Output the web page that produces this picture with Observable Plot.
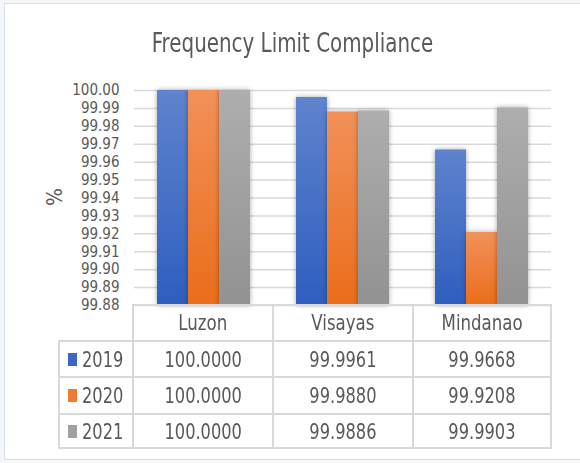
<!DOCTYPE html>
<html><head><meta charset="utf-8">
<script src="https://cdn.jsdelivr.net/npm/d3@7"></script>
<script src="https://cdn.jsdelivr.net/npm/@observablehq/plot@0.6"></script>
<style>
html,body{margin:0;padding:0;background:#f4f7fa;}
body{position:relative;width:580px;height:463px;overflow:hidden;font-family:"Liberation Sans Narrow","DejaVu Sans Condensed","Arial Narrow",sans-serif;color:#595959;}
#frame{position:absolute;left:4px;top:3px;width:620px;height:457px;background:#fff;border:1.5px solid #dadde1;border-right:none;box-sizing:border-box;}
#title{position:absolute;left:0;top:30px;width:585px;text-align:center;font-size:26px;line-height:26px;color:#595959;transform:scaleX(0.85);transform-origin:292.5px 50%;}
#ylabel{position:absolute;left:35px;top:185px;width:40px;height:24px;line-height:24px;text-align:center;font-size:21px;transform:rotate(-90deg);transform-origin:50% 50%;}
#chart{position:absolute;left:0;top:0;}
#table{position:absolute;left:58px;top:304px;display:grid;grid-template-columns:74px 140px 140px 140px;grid-template-rows:36px 36px 37px 36px;}
#table div{box-sizing:border-box;border-top:2px solid #d9d9d9;border-left:2px solid #d9d9d9;display:flex;align-items:center;justify-content:center;font-size:22px;color:#595959;white-space:nowrap;}
#table div.last{border-right:2px solid #d9d9d9;}
#table div.bottom{border-bottom:2px solid #d9d9d9;}
#table div.empty{border:none;}
#table div.hdr{font-size:21px;}
#table div.leg{justify-content:flex-start;padding-left:8px;}
#table .t{display:inline-block;transform:scaleX(0.82);transform-origin:50% 50%;}
#table .hdr .t{transform:scaleX(0.88);}
#table .leg .t{transform-origin:0 50%;}
#table .sw{display:inline-block;width:13px;height:13px;margin-right:5px;}
</style></head>
<body>
<div id="frame"></div>
<div id="title">Frequency Limit Compliance</div>
<div id="chart"></div>
<div id="ylabel">%</div>
<div id="table"></div>
<script>
const regions = ["Luzon", "Visayas", "Mindanao"];
const years = ["2019", "2020", "2021"];
const values2019 = [100.0000, 99.9961, 99.9668];
const values2020 = [100.0000, 99.9880, 99.9208];
const values2021 = [100.0000, 99.9886, 99.9903];
const yTicks = [99.88, 99.89, 99.90, 99.91, 99.92, 99.93, 99.94, 99.95, 99.96, 99.97, 99.98, 99.99, 100.00];
const yMin = 99.88, yMax = 100.00;
const yearColors = {"2019": ["#5f83cd", "#2e5ebf"], "2020": ["#f29159", "#ea6d1b"], "2021": ["#aeaeae", "#929292"]};
const swatchColors = {"2019": "#3a67c4", "2020": "#ee7a35", "2021": "#a0a0a0"};

const series = {"2019": values2019, "2020": values2020, "2021": values2021};
const rows = years.flatMap(y => regions.map((r, i) => ({year: y, region: r, value: series[y][i]})));

const font = '"Liberation Sans Narrow","DejaVu Sans Condensed","Arial Narrow",sans-serif';

const chart = Plot.plot({
  width: 580,
  height: 306,
  marginTop: 90,
  marginBottom: 1,
  marginLeft: 133,
  marginRight: 28,
  style: {fontFamily: font, color: "#595959", background: "transparent", overflow: "visible"},
  fx: {domain: regions, padding: 0, axis: null},
  x: {domain: years, paddingInner: 0, paddingOuter: 0.73, axis: null},
  y: {domain: [yMin, yMax], axis: null},
  marks: [
    Plot.ruleY(yTicks, {y: d => d, stroke: "#d9d9d9", strokeWidth: 1.5}),
    ...years.map(yr => Plot.barY(rows.filter(d => d.year === yr), {
      fx: "region", x: "year", y1: yMin, y2: "value",
      fill: `url(#grad${yr})`, inset: 0
    })),
    Plot.axisY(yTicks, {tickFormat: d3.format(".2f"), tickSize: 0, tickPadding: 15, fontSize: 15, label: null})
  ]
});
const svg = d3.select(chart);
const defs = svg.insert("defs", ":first-child");
years.forEach(yr => {
  const g = defs.append("linearGradient").attr("id", `grad${yr}`).attr("x1", 0).attr("y1", 0).attr("x2", 0).attr("y2", 1);
  g.append("stop").attr("offset", "0%").attr("stop-color", yearColors[yr][0]);
  g.append("stop").attr("offset", "100%").attr("stop-color", yearColors[yr][1]);
});
const f = defs.append("filter").attr("id", "barShadow").attr("x", "-30%").attr("y", "-10%").attr("width", "160%").attr("height", "120%");
f.append("feDropShadow").attr("dx", 0).attr("dy", 0).attr("stdDeviation", 2.5).attr("flood-color", "#000").attr("flood-opacity", 0.35);
svg.selectAll("rect").filter(function() { return (this.getAttribute("fill") || "").startsWith("url") || (this.parentNode.getAttribute("fill") || "").startsWith("url"); }).attr("filter", "url(#barShadow)");
document.getElementById("chart").appendChild(chart);

// data table
const table = d3.select("#table");
table.append("div").attr("class", "empty");
regions.forEach((r, i) => table.append("div").attr("class", "hdr" + (i === regions.length - 1 ? " last" : "")).append("span").attr("class", "t").text(r));
years.forEach((yr, j) => {
  const bottom = j === years.length - 1 ? " bottom" : "";
  const leg = table.append("div").attr("class", "leg" + bottom);
  leg.append("span").attr("class", "sw").style("background", swatchColors[yr]);
  leg.append("span").attr("class", "t").text(yr);
  series[yr].forEach((v, i) => table.append("div").attr("class", (i === regions.length - 1 ? "last" : "") + bottom).append("span").attr("class", "t").text(v.toFixed(4)));
});
</script>
</body></html>
